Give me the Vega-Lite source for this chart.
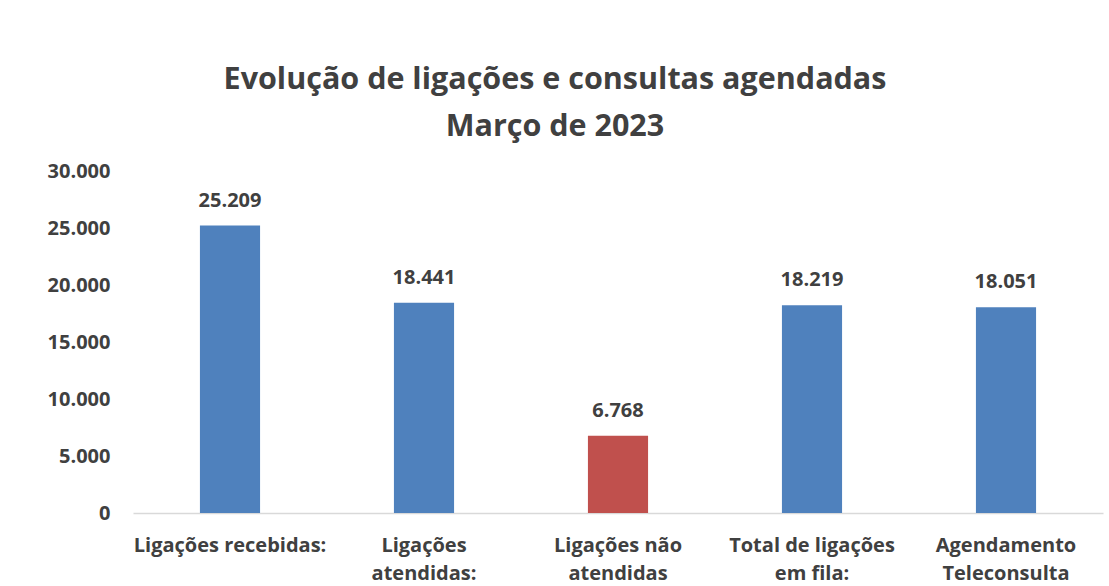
{
  "$schema": "https://vega.github.io/schema/vega-lite/v6.json",
  "width": 970,
  "height": 342,
  "autosize": {"type": "none"},
  "padding": {"left": 133, "top": 171, "right": 6, "bottom": 73},
  "background": "white",
  "title": {
    "text": ["Evolução de ligações e consultas agendadas", "Março de 2023"],
    "font": "Open Sans",
    "fontSize": 30.5,
    "fontWeight": "bold",
    "color": "#404040",
    "lineHeight": 47,
    "anchor": "middle",
    "dx": -63,
    "offset": 19
  },
  "config": {
    "view": {"stroke": null},
    "locale": {"number": {"decimal": ",", "thousands": ".", "grouping": [3], "currency": ["R$", ""]}}
  },
  "data": {
    "values": [
      {"categoria": "Ligações recebidas:", "valor": 25209, "tipo": "a"},
      {"categoria": "Ligações|atendidas:", "valor": 18441, "tipo": "a"},
      {"categoria": "Ligações não|atendidas", "valor": 6768, "tipo": "b"},
      {"categoria": "Total de ligações|em fila:", "valor": 18219, "tipo": "a"},
      {"categoria": "Agendamento|Teleconsulta", "valor": 18051, "tipo": "a"}
    ]
  },
  "encoding": {
    "x": {
      "field": "categoria",
      "type": "nominal",
      "sort": null,
      "scale": {"paddingInner": 0.69, "paddingOuter": 0.345},
      "axis": {
        "title": null,
        "labelAngle": 0,
        "labelExpr": "split(datum.label, '|')",
        "labelFont": "Open Sans",
        "labelFontSize": 20,
        "labelFontWeight": "bold",
        "labelColor": "#404040",
        "labelLineHeight": 28,
        "labelPadding": 22,
        "labelBaseline": "top",
        "labelLimit": 400,
        "labelOverlap": false,
        "ticks": false,
        "domainColor": "#D9D9D9",
        "domainWidth": 1.5
      }
    },
    "y": {
      "field": "valor",
      "type": "quantitative",
      "scale": {"domain": [0, 30000]},
      "axis": {
        "title": null,
        "values": [0, 5000, 10000, 15000, 20000, 25000, 30000],
        "format": ",d",
        "labelFont": "Open Sans",
        "labelFontSize": 20,
        "labelFontWeight": "bold",
        "labelColor": "#404040",
        "labelPadding": 23,
        "ticks": false,
        "domain": false,
        "grid": false
      }
    }
  },
  "layer": [
    {
      "mark": {"type": "bar"},
      "encoding": {
        "color": {
          "field": "tipo",
          "type": "nominal",
          "scale": {"domain": ["a", "b"], "range": ["#4F81BD", "#C0504D"]},
          "legend": null
        }
      }
    },
    {
      "mark": {
        "type": "text",
        "font": "Open Sans",
        "fontSize": 20,
        "fontWeight": "bold",
        "color": "#404040",
        "baseline": "alphabetic",
        "dy": -19
      },
      "encoding": {
        "text": {"field": "valor", "type": "quantitative", "format": ",d"}
      }
    }
  ]
}
